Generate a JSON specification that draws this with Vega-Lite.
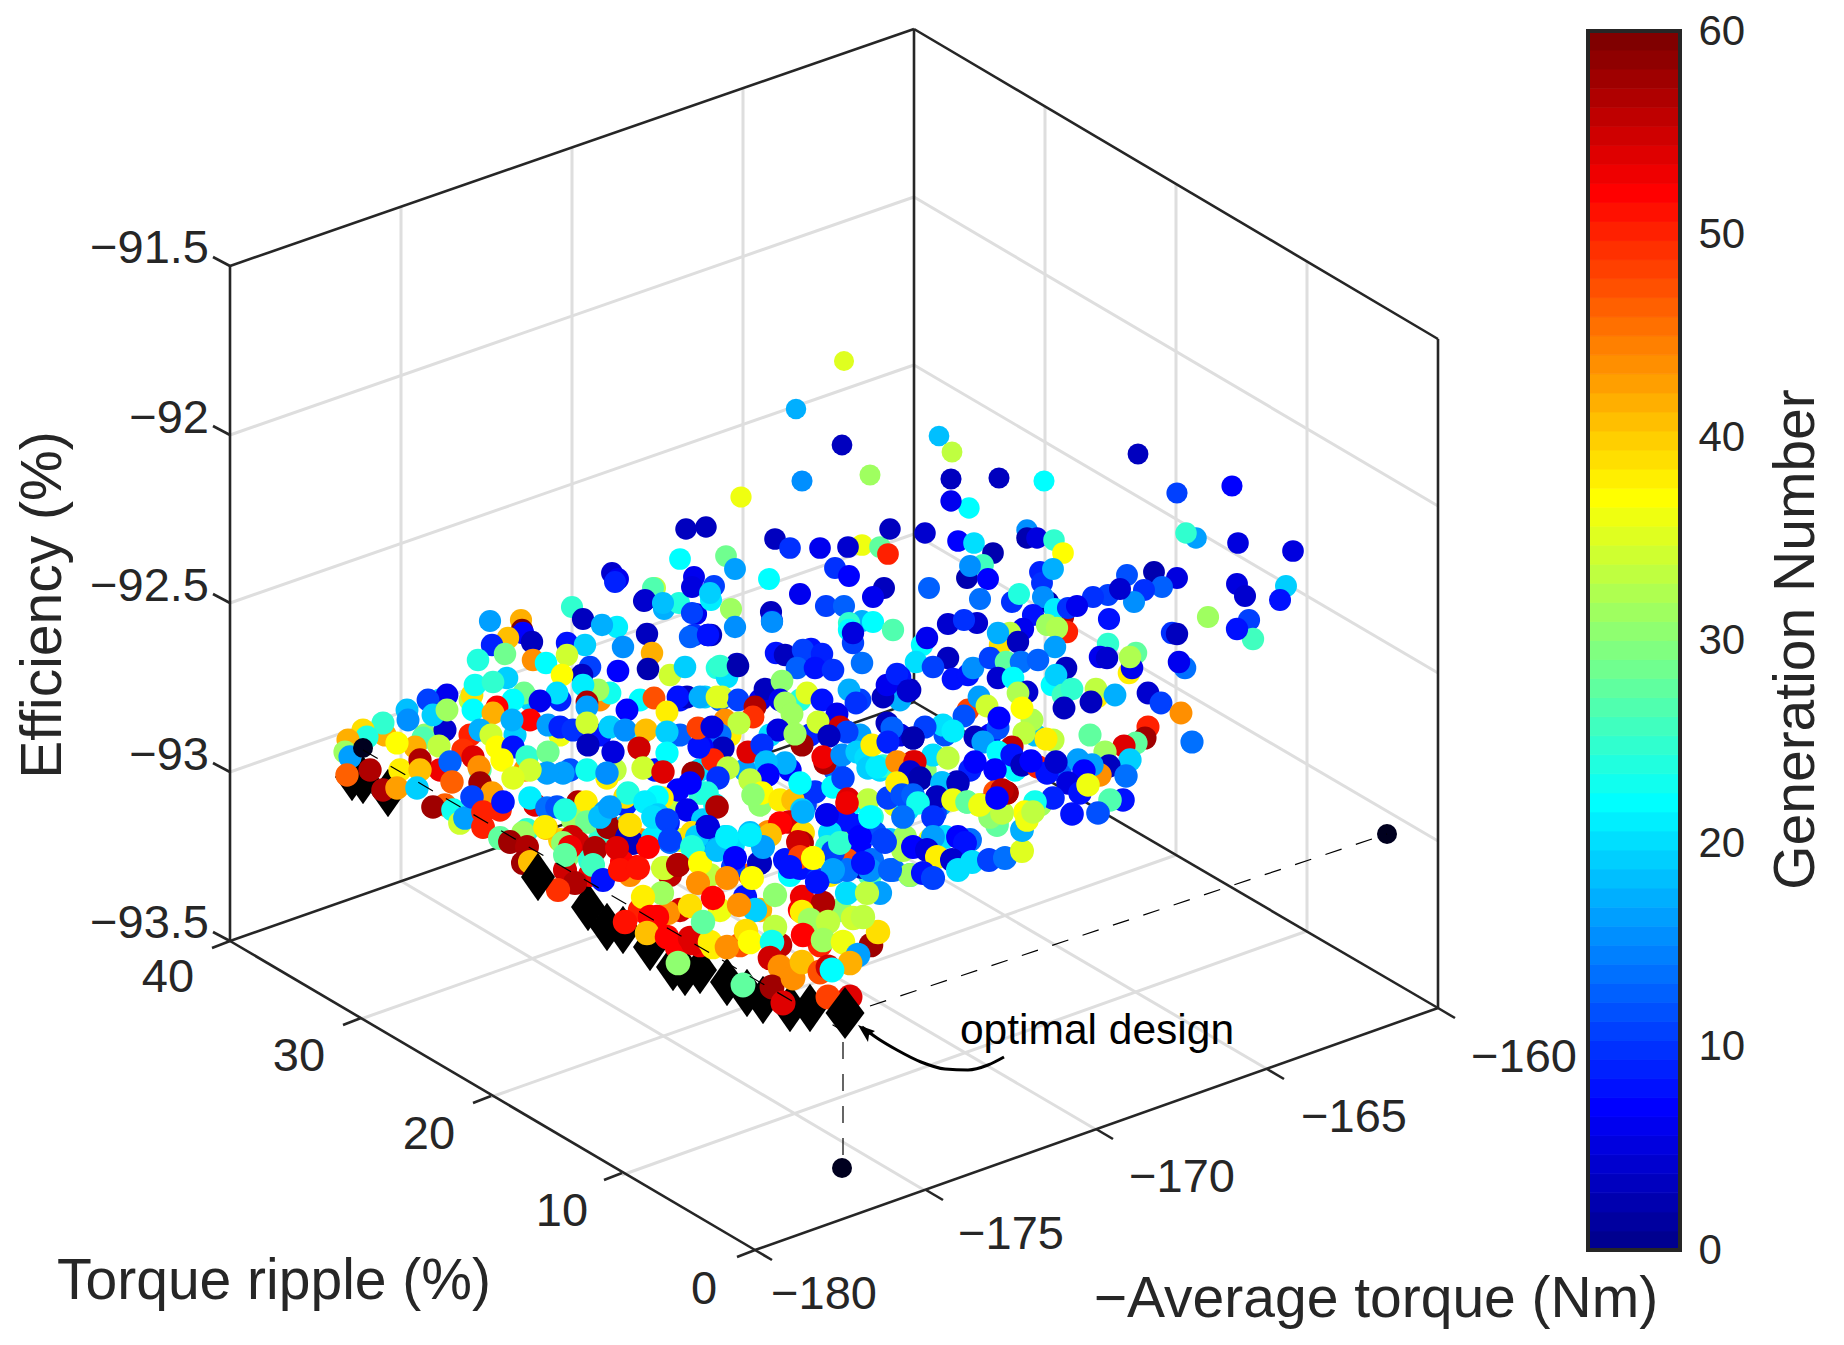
{"$schema":"https://vega.github.io/schema/vega-lite/v6.json","width":1844,"height":1345,"padding":0,"autosize":"none","background":"white","view":{"stroke":null},
"datasets":{
"grid":[{"u":622,"v":1175,"u2":1307,"v2":931},{"u":491,"v":1097,"u2":1176,"v2":855},{"u":361,"v":1019,"u2":1045,"v2":778},{"u":924,"v":1190,"u2":401,"v2":881},{"u":1095,"v":1129,"u2":572,"v2":822},{"u":1267,"v":1069,"u2":743,"v2":762},{"u":401,"v":881,"u2":401,"v2":207},{"u":572,"v":822,"u2":572,"v2":147},{"u":743,"v":762,"u2":743,"v2":88},{"u":1045,"v":778,"u2":1045,"v2":107},{"u":1176,"v":855,"u2":1176,"v2":184},{"u":1307,"v":931,"u2":1307,"v2":262},{"u":230,"v":772,"u2":914,"v2":534},{"u":230,"v":603,"u2":914,"v2":365},{"u":230,"v":435,"u2":914,"v2":197},{"u":914,"v":534,"u2":1438,"v2":841},{"u":914,"v":365,"u2":1438,"v2":673},{"u":914,"v":197,"u2":1438,"v2":506}],
"box":[{"u":230,"v":266,"u2":914,"v2":29},{"u":914,"v":29,"u2":1438,"v2":339},{"u":230,"v":266,"u2":230,"v2":941},{"u":914,"v":29,"u2":914,"v2":702},{"u":1438,"v":339,"u2":1438,"v2":1008},{"u":230,"v":941,"u2":755,"v2":1250},{"u":755,"v":1250,"u2":1438,"v2":1008},{"u":230,"v":941,"u2":914,"v2":702},{"u":914,"v":702,"u2":1438,"v2":1008},
{"u":755,"v":1250,"u2":737,"v2":1257},{"u":622,"v":1173,"u2":604,"v2":1180},{"u":491,"v":1096,"u2":473,"v2":1103},{"u":361,"v":1018,"u2":343,"v2":1025},{"u":230,"v":941,"u2":212,"v2":948},
{"u":755,"v":1250,"u2":772,"v2":1260},{"u":926,"v":1190,"u2":943,"v2":1200},{"u":1096,"v":1129,"u2":1113,"v2":1139},{"u":1267,"v":1069,"u2":1284,"v2":1079},{"u":1438,"v":1008,"u2":1455,"v2":1018},
{"u":230,"v":266,"u2":213,"v2":257},{"u":230,"v":435,"u2":213,"v2":426},{"u":230,"v":603,"u2":213,"v2":594},{"u":230,"v":772,"u2":213,"v2":763},{"u":230,"v":941,"u2":213,"v2":932}],
"leaders":[{"u":843,"v":1010,"u2":843,"v2":1168},{"u":870,"v":1006,"u2":1387,"v2":834},{"u":363,"v":750,"u2":845,"v2":1032}],
"projections":[{"u":842,"v":1168},{"u":1387,"v":834},{"u":363,"v":748}],
"front":[{"u":352,"v":777},{"u":363,"v":780},{"u":388,"v":793},{"u":588,"v":907},{"u":607,"v":927},{"u":623,"v":930},{"u":650,"v":947},{"u":673,"v":967},{"u":685,"v":972},{"u":700,"v":970},{"u":727,"v":982},{"u":747,"v":993},{"u":763,"v":1000},{"u":790,"v":1008},{"u":810,"v":1008}],
"frontTop":[{"u":538,"v":877}],
"optimal":[{"u":845,"v":1013}],
"arrow":[{"u":1004,"v":1057,"o":1},{"u":988,"v":1065,"o":2},{"u":968,"v":1070,"o":3},{"u":945,"v":1069,"o":4},{"u":921,"v":1062,"o":5},{"u":897,"v":1050,"o":6},{"u":877,"v":1038,"o":7},{"u":862,"v":1027,"o":8}],
"arrowTip":[{"u":858,"v":1025}],
"labelsRight":[{"u":209,"v":249,"t":"−91.5"},{"u":209,"v":419,"t":"−92"},{"u":209,"v":587,"t":"−92.5"},{"u":209,"v":756,"t":"−93"},{"u":209,"v":924,"t":"−93.5"}],
"labelsCenter":[{"u":168,"v":978,"t":"40"},{"u":299,"v":1057,"t":"30"},{"u":429,"v":1135,"t":"20"},{"u":562,"v":1212,"t":"10"},{"u":704,"v":1290,"t":"0"},{"u":824,"v":1295,"t":"−180"},{"u":1011,"v":1235,"t":"−175"},{"u":1182,"v":1178,"t":"−170"},{"u":1354,"v":1118,"t":"−165"},{"u":1524,"v":1058,"t":"−160"}],
"titles":[{"u":274,"v":1282,"t":"Torque ripple (%)"},{"u":1376,"v":1300,"t":"−Average torque (Nm)"}],
"titleZ":[{"u":44,"v":605,"t":"Efficiency (%)"}],
"note":[{"u":1097,"v":1031,"t":"optimal design"}],
"barFrame":[{"lo":0,"hi":60}],
"bar":[{"lo":0,"hi":0.9375,"gen":0.47},{"lo":0.9375,"hi":1.875,"gen":1.41},{"lo":1.875,"hi":2.8125,"gen":2.34},{"lo":2.8125,"hi":3.75,"gen":3.28},{"lo":3.75,"hi":4.6875,"gen":4.22},{"lo":4.6875,"hi":5.625,"gen":5.16},{"lo":5.625,"hi":6.5625,"gen":6.09},{"lo":6.5625,"hi":7.5,"gen":7.03},{"lo":7.5,"hi":8.4375,"gen":7.97},{"lo":8.4375,"hi":9.375,"gen":8.91},{"lo":9.375,"hi":10.3125,"gen":9.84},{"lo":10.3125,"hi":11.25,"gen":10.78},{"lo":11.25,"hi":12.1875,"gen":11.72},{"lo":12.1875,"hi":13.125,"gen":12.66},{"lo":13.125,"hi":14.0625,"gen":13.59},{"lo":14.0625,"hi":15,"gen":14.53},{"lo":15,"hi":15.9375,"gen":15.47},{"lo":15.9375,"hi":16.875,"gen":16.41},{"lo":16.875,"hi":17.8125,"gen":17.34},{"lo":17.8125,"hi":18.75,"gen":18.28},{"lo":18.75,"hi":19.6875,"gen":19.22},{"lo":19.6875,"hi":20.625,"gen":20.16},{"lo":20.625,"hi":21.5625,"gen":21.09},{"lo":21.5625,"hi":22.5,"gen":22.03},{"lo":22.5,"hi":23.4375,"gen":22.97},{"lo":23.4375,"hi":24.375,"gen":23.91},{"lo":24.375,"hi":25.3125,"gen":24.84},{"lo":25.3125,"hi":26.25,"gen":25.78},{"lo":26.25,"hi":27.1875,"gen":26.72},{"lo":27.1875,"hi":28.125,"gen":27.66},{"lo":28.125,"hi":29.0625,"gen":28.59},{"lo":29.0625,"hi":30,"gen":29.53},{"lo":30,"hi":30.9375,"gen":30.47},{"lo":30.9375,"hi":31.875,"gen":31.41},{"lo":31.875,"hi":32.8125,"gen":32.34},{"lo":32.8125,"hi":33.75,"gen":33.28},{"lo":33.75,"hi":34.6875,"gen":34.22},{"lo":34.6875,"hi":35.625,"gen":35.16},{"lo":35.625,"hi":36.5625,"gen":36.09},{"lo":36.5625,"hi":37.5,"gen":37.03},{"lo":37.5,"hi":38.4375,"gen":37.97},{"lo":38.4375,"hi":39.375,"gen":38.91},{"lo":39.375,"hi":40.3125,"gen":39.84},{"lo":40.3125,"hi":41.25,"gen":40.78},{"lo":41.25,"hi":42.1875,"gen":41.72},{"lo":42.1875,"hi":43.125,"gen":42.66},{"lo":43.125,"hi":44.0625,"gen":43.59},{"lo":44.0625,"hi":45,"gen":44.53},{"lo":45,"hi":45.9375,"gen":45.47},{"lo":45.9375,"hi":46.875,"gen":46.41},{"lo":46.875,"hi":47.8125,"gen":47.34},{"lo":47.8125,"hi":48.75,"gen":48.28},{"lo":48.75,"hi":49.6875,"gen":49.22},{"lo":49.6875,"hi":50.625,"gen":50.16},{"lo":50.625,"hi":51.5625,"gen":51.09},{"lo":51.5625,"hi":52.5,"gen":52.03},{"lo":52.5,"hi":53.4375,"gen":52.97},{"lo":53.4375,"hi":54.375,"gen":53.91},{"lo":54.375,"hi":55.3125,"gen":54.84},{"lo":55.3125,"hi":56.25,"gen":55.78},{"lo":56.25,"hi":57.1875,"gen":56.72},{"lo":57.1875,"hi":58.125,"gen":57.66},{"lo":58.125,"hi":59.0625,"gen":58.59},{"lo":59.0625,"hi":60,"gen":59.53}],
"dots":[
{"u":440,"v":700,"gen":20},{"u":470,"v":700,"gen":33},{"u":530,"v":700,"gen":19},{"u":560,"v":700,"gen":9},{"u":600,"v":700,"gen":44},{"u":640,"v":700,"gen":22},{"u":680,"v":700,"gen":8},{"u":720,"v":700,"gen":13},{"u":760,"v":700,"gen":6},{"u":800,"v":700,"gen":24},{"u":860,"v":700,"gen":11},{"u":900,"v":700,"gen":17},{"u":385,"v":735,"gen":42},{"u":425,"v":735,"gen":30},{"u":470,"v":735,"gen":50},{"u":515,"v":735,"gen":19},{"u":560,"v":735,"gen":36},{"u":600,"v":735,"gen":8},{"u":640,"v":735,"gen":24},{"u":680,"v":735,"gen":13},{"u":730,"v":735,"gen":38},{"u":770,"v":735,"gen":20},{"u":810,"v":735,"gen":9},{"u":860,"v":735,"gen":16},{"u":900,"v":735,"gen":5},{"u":945,"v":735,"gen":12},{"u":990,"v":735,"gen":7},{"u":1035,"v":735,"gen":18},{"u":400,"v":770,"gen":38},{"u":440,"v":770,"gen":53},{"u":480,"v":770,"gen":28},{"u":525,"v":770,"gen":44},{"u":570,"v":770,"gen":12},{"u":615,"v":770,"gen":33},{"u":655,"v":770,"gen":8},{"u":700,"v":770,"gen":20},{"u":745,"v":770,"gen":16},{"u":790,"v":770,"gen":7},{"u":835,"v":770,"gen":13},{"u":880,"v":770,"gen":20},{"u":925,"v":770,"gen":30},{"u":970,"v":770,"gen":9},{"u":1015,"v":770,"gen":22},{"u":1060,"v":770,"gen":13},{"u":445,"v":805,"gen":46},{"u":490,"v":805,"gen":37},{"u":535,"v":805,"gen":54},{"u":580,"v":805,"gen":20},{"u":625,"v":805,"gen":9},{"u":670,"v":805,"gen":33},{"u":715,"v":805,"gen":22},{"u":760,"v":805,"gen":30},{"u":805,"v":805,"gen":11},{"u":850,"v":805,"gen":22},{"u":895,"v":805,"gen":36},{"u":940,"v":805,"gen":16},{"u":985,"v":805,"gen":8},{"u":1040,"v":805,"gen":31},{"u":520,"v":840,"gen":50},{"u":560,"v":840,"gen":40},{"u":600,"v":840,"gen":25},{"u":640,"v":840,"gen":44},{"u":680,"v":840,"gen":34},{"u":720,"v":840,"gen":17},{"u":760,"v":840,"gen":38},{"u":800,"v":840,"gen":16},{"u":845,"v":840,"gen":30},{"u":890,"v":840,"gen":19},{"u":930,"v":840,"gen":36},{"u":970,"v":840,"gen":14},{"u":590,"v":875,"gen":53},{"u":630,"v":875,"gen":44},{"u":670,"v":875,"gen":56},{"u":710,"v":875,"gen":33},{"u":750,"v":875,"gen":46},{"u":790,"v":875,"gen":22},{"u":830,"v":875,"gen":38},{"u":870,"v":875,"gen":27},{"u":910,"v":875,"gen":20},{"u":640,"v":910,"gen":50},{"u":680,"v":910,"gen":55},{"u":720,"v":910,"gen":36},{"u":760,"v":910,"gen":42},{"u":800,"v":910,"gen":52},{"u":840,"v":910,"gen":30},{"u":700,"v":945,"gen":53},{"u":740,"v":945,"gen":47},{"u":780,"v":945,"gen":56},{"u":820,"v":945,"gen":50},
{"u":844,"v":361,"gen":35},{"u":796,"v":409,"gen":17},{"u":842,"v":445,"gen":3},{"u":802,"v":481,"gen":15},{"u":870,"v":475,"gen":31},{"u":741,"v":497,"gen":36},{"u":686,"v":529,"gen":3},{"u":706,"v":527,"gen":3},{"u":775,"v":539,"gen":3},{"u":790,"v":548,"gen":10},{"u":820,"v":548,"gen":6},{"u":862,"v":545,"gen":36},{"u":848,"v":547,"gen":4},{"u":880,"v":547,"gen":28},{"u":888,"v":554,"gen":50},{"u":890,"v":529,"gen":3},{"u":680,"v":559,"gen":22},{"u":726,"v":556,"gen":29},{"u":694,"v":577,"gen":6},{"u":714,"v":586,"gen":11},{"u":735,"v":569,"gen":16},{"u":769,"v":579,"gen":22},{"u":800,"v":594,"gen":6},{"u":835,"v":568,"gen":10},{"u":849,"v":576,"gen":7},{"u":884,"v":588,"gen":3},{"u":873,"v":597,"gen":6},{"u":826,"v":606,"gen":11},{"u":844,"v":606,"gen":13},{"u":862,"v":621,"gen":17},{"u":612,"v":573,"gen":4},{"u":618,"v":579,"gen":6},{"u":655,"v":588,"gen":33},{"u":644,"v":601,"gen":3},{"u":664,"v":609,"gen":17},{"u":679,"v":603,"gen":24},{"u":696,"v":614,"gen":6},{"u":711,"v":600,"gen":21},{"u":731,"v":609,"gen":31},{"u":771,"v":612,"gen":3},{"u":772,"v":621,"gen":6},{"u":849,"v":623,"gen":25},{"u":737,"v":664,"gen":3},{"u":694,"v":635,"gen":10},{"u":711,"v":635,"gen":3},{"u":717,"v":668,"gen":24},{"u":776,"v":653,"gen":8},{"u":800,"v":659,"gen":7},{"u":811,"v":649,"gen":8},
{"u":939,"v":436,"gen":18},{"u":952,"v":452,"gen":33},{"u":951,"v":479,"gen":3},{"u":999,"v":478,"gen":3},{"u":1044,"v":481,"gen":22},{"u":1138,"v":454,"gen":3},{"u":1177,"v":493,"gen":11},{"u":1232,"v":486,"gen":7},{"u":969,"v":508,"gen":22},{"u":951,"v":501,"gen":6},{"u":925,"v":533,"gen":4},{"u":958,"v":541,"gen":7},{"u":974,"v":543,"gen":20},{"u":993,"v":553,"gen":2},{"u":1027,"v":530,"gen":15},{"u":1027,"v":538,"gen":2},{"u":1037,"v":538,"gen":5},{"u":1054,"v":540,"gen":25},{"u":1063,"v":553,"gen":37},{"u":1196,"v":538,"gen":16},{"u":1186,"v":533,"gen":25},{"u":1238,"v":543,"gen":5},{"u":1293,"v":551,"gen":5},{"u":983,"v":565,"gen":26},{"u":967,"v":578,"gen":2},{"u":970,"v":566,"gen":15},{"u":988,"v":579,"gen":7},{"u":929,"v":588,"gen":13},{"u":1040,"v":572,"gen":9},{"u":1042,"v":583,"gen":10},{"u":1053,"v":569,"gen":17},{"u":1127,"v":575,"gen":12},{"u":1154,"v":572,"gen":2},{"u":1177,"v":578,"gen":5},{"u":1162,"v":587,"gen":13},{"u":1144,"v":590,"gen":10},{"u":1134,"v":602,"gen":15},{"u":1108,"v":595,"gen":11},{"u":1093,"v":597,"gen":10},{"u":1120,"v":589,"gen":4},{"u":1237,"v":584,"gen":5},{"u":1245,"v":596,"gen":4},{"u":1286,"v":586,"gen":19},{"u":1280,"v":600,"gen":8},{"u":980,"v":599,"gen":14},{"u":1012,"v":602,"gen":10},{"u":1019,"v":594,"gen":24},{"u":1048,"v":602,"gen":2},{"u":1043,"v":597,"gen":15},{"u":1033,"v":615,"gen":8},{"u":1063,"v":617,"gen":57},{"u":1067,"v":632,"gen":50},{"u":1055,"v":609,"gen":21},{"u":1068,"v":608,"gen":10},{"u":1077,"v":606,"gen":6},{"u":1109,"v":619,"gen":8},{"u":1208,"v":617,"gen":31},{"u":1249,"v":620,"gen":11},{"u":1253,"v":639,"gen":26},{"u":1237,"v":629,"gen":8},{"u":948,"v":624,"gen":4},{"u":977,"v":623,"gen":4},{"u":964,"v":620,"gen":10},{"u":1023,"v":629,"gen":6},{"u":1010,"v":633,"gen":33},{"u":1000,"v":645,"gen":39},{"u":998,"v":633,"gen":17},{"u":1018,"v":642,"gen":3},{"u":1047,"v":625,"gen":31},{"u":1057,"v":628,"gen":32},{"u":1055,"v":647,"gen":16},{"u":1108,"v":644,"gen":25},{"u":1172,"v":633,"gen":10},{"u":1177,"v":634,"gen":3},{"u":1100,"v":657,"gen":6},{"u":1107,"v":658,"gen":4},{"u":1136,"v":653,"gen":28},{"u":1129,"v":673,"gen":38},{"u":1132,"v":668,"gen":6},{"u":1130,"v":657,"gen":32},{"u":1185,"v":668,"gen":14},{"u":1179,"v":662,"gen":6},{"u":922,"v":645,"gen":22},{"u":927,"v":638,"gen":6},{"u":916,"v":662,"gen":20},{"u":948,"v":658,"gen":3},{"u":933,"v":667,"gen":11},{"u":953,"v":679,"gen":8},{"u":968,"v":675,"gen":8},{"u":973,"v":668,"gen":15},{"u":990,"v":658,"gen":11},{"u":1006,"v":662,"gen":28},{"u":1021,"v":662,"gen":14},{"u":1038,"v":660,"gen":13},{"u":998,"v":678,"gen":4},{"u":1013,"v":678,"gen":22},{"u":1066,"v":668,"gen":3},{"u":1052,"v":685,"gen":22},{"u":1056,"v":675,"gen":19},{"u":1063,"v":695,"gen":26},{"u":1072,"v":689,"gen":25},{"u":1097,"v":697,"gen":38},{"u":1096,"v":689,"gen":33},{"u":1064,"v":708,"gen":3},{"u":1091,"v":702,"gen":3},{"u":1115,"v":695,"gen":17},{"u":1148,"v":693,"gen":4},{"u":1161,"v":703,"gen":11},{"u":1181,"v":713,"gen":44},{"u":1148,"v":727,"gen":50},{"u":1145,"v":738,"gen":58},{"u":1136,"v":743,"gen":28},{"u":1124,"v":746,"gen":54},{"u":1090,"v":735,"gen":28},{"u":1192,"v":742,"gen":14},{"u":1130,"v":760,"gen":19},{"u":1105,"v":752,"gen":31},{"u":1109,"v":766,"gen":3},{"u":1078,"v":760,"gen":16},{"u":1100,"v":775,"gen":44},{"u":1092,"v":765,"gen":16},{"u":1126,"v":776,"gen":14},{"u":1084,"v":771,"gen":7},{"u":1068,"v":783,"gen":5},{"u":1080,"v":793,"gen":8},{"u":1088,"v":785,"gen":36},{"u":1123,"v":800,"gen":8},{"u":1110,"v":800,"gen":27},{"u":1053,"v":798,"gen":9},{"u":1072,"v":814,"gen":8},{"u":1098,"v":813,"gen":12},
{"u":910,"v":690,"gen":3},{"u":900,"v":677,"gen":8},{"u":968,"v":710,"gen":48},{"u":979,"v":697,"gen":16},{"u":987,"v":706,"gen":34},{"u":964,"v":716,"gen":12},{"u":1027,"v":692,"gen":4},{"u":1018,"v":693,"gen":32},{"u":1032,"v":720,"gen":32},{"u":1022,"v":708,"gen":37},{"u":998,"v":728,"gen":12},{"u":999,"v":718,"gen":7},{"u":1024,"v":733,"gen":33},{"u":1053,"v":740,"gen":33},{"u":1046,"v":739,"gen":38},{"u":975,"v":737,"gen":3},{"u":983,"v":742,"gen":16},{"u":943,"v":725,"gen":20},{"u":925,"v":727,"gen":11},{"u":953,"v":731,"gen":21},{"u":913,"v":738,"gen":2},{"u":1012,"v":747,"gen":56},{"u":998,"v":752,"gen":22},{"u":1012,"v":755,"gen":8},{"u":1022,"v":765,"gen":3},{"u":1038,"v":767,"gen":50},{"u":1047,"v":773,"gen":8},{"u":1031,"v":761,"gen":7},{"u":1056,"v":762,"gen":4},{"u":933,"v":755,"gen":20},{"u":948,"v":758,"gen":33},{"u":975,"v":762,"gen":7},{"u":995,"v":770,"gen":7},{"u":913,"v":762,"gen":55},{"u":908,"v":772,"gen":6},{"u":920,"v":779,"gen":2},{"u":957,"v":782,"gen":3},{"u":942,"v":783,"gen":18},{"u":995,"v":792,"gen":47},{"u":1007,"v":793,"gen":54},{"u":997,"v":800,"gen":6},{"u":967,"v":802,"gen":28},{"u":979,"v":805,"gen":36},{"u":1035,"v":802,"gen":23},{"u":1002,"v":813,"gen":33},{"u":1025,"v":812,"gen":37},{"u":912,"v":795,"gen":13},{"u":937,"v":797,"gen":4},{"u":935,"v":813,"gen":11},{"u":907,"v":810,"gen":20},
{"u":708,"v":635,"gen":4},{"u":735,"v":627,"gen":15},{"u":772,"v":622,"gen":15},{"u":727,"v":677,"gen":20},{"u":720,"v":666,"gen":25},{"u":738,"v":666,"gen":2},{"u":785,"v":655,"gen":3},{"u":803,"v":650,"gen":11},{"u":822,"v":654,"gen":9},{"u":797,"v":668,"gen":13},{"u":815,"v":668,"gen":8},{"u":833,"v":670,"gen":10},{"u":862,"v":663,"gen":14},{"u":849,"v":630,"gen":22},{"u":853,"v":643,"gen":11},{"u":853,"v":633,"gen":5},{"u":873,"v":622,"gen":22},{"u":893,"v":630,"gen":27},{"u":883,"v":697,"gen":3},{"u":887,"v":685,"gen":6},{"u":897,"v":674,"gen":9},{"u":908,"v":691,"gen":4},{"u":765,"v":689,"gen":3},{"u":782,"v":681,"gen":30},{"u":807,"v":693,"gen":35},{"u":780,"v":700,"gen":6},{"u":822,"v":700,"gen":8},{"u":849,"v":690,"gen":17},{"u":856,"v":703,"gen":10},{"u":705,"v":697,"gen":19},{"u":722,"v":697,"gen":34},{"u":738,"v":700,"gen":11},{"u":755,"v":707,"gen":57},{"u":753,"v":717,"gen":49},{"u":725,"v":720,"gen":44},{"u":739,"v":723,"gen":33},{"u":785,"v":703,"gen":31},{"u":792,"v":714,"gen":31},{"u":837,"v":714,"gen":6},{"u":818,"v":722,"gen":34},{"u":802,"v":745,"gen":58},{"u":778,"v":730,"gen":5},{"u":795,"v":734,"gen":31},{"u":840,"v":727,"gen":55},{"u":847,"v":732,"gen":11},{"u":829,"v":736,"gen":3},{"u":713,"v":728,"gen":6},{"u":720,"v":735,"gen":14},{"u":723,"v":748,"gen":3},{"u":702,"v":747,"gen":7},{"u":748,"v":752,"gen":54},{"u":762,"v":745,"gen":10},{"u":825,"v":763,"gen":57},{"u":823,"v":757,"gen":53},{"u":842,"v":755,"gen":15},{"u":857,"v":752,"gen":19},{"u":866,"v":758,"gen":20},{"u":785,"v":763,"gen":17},{"u":766,"v":762,"gen":18},{"u":768,"v":775,"gen":7},{"u":713,"v":760,"gen":50},{"u":728,"v":768,"gen":33},{"u":718,"v":778,"gen":10},{"u":702,"v":793,"gen":24},{"u":750,"v":780,"gen":33},{"u":762,"v":793,"gen":37},{"u":753,"v":795,"gen":30},{"u":780,"v":800,"gen":38},{"u":793,"v":800,"gen":41},{"u":815,"v":792,"gen":10},{"u":800,"v":783,"gen":22},{"u":833,"v":787,"gen":22},{"u":843,"v":778,"gen":11},{"u":802,"v":810,"gen":19},{"u":789,"v":822,"gen":54},{"u":827,"v":815,"gen":4},{"u":848,"v":799,"gen":54},{"u":845,"v":820,"gen":8},{"u":857,"v":826,"gen":8},{"u":868,"v":800,"gen":33},{"u":872,"v":817,"gen":25},{"u":768,"v":832,"gen":44},{"u":750,"v":833,"gen":18},{"u":725,"v":837,"gen":19},{"u":708,"v":828,"gen":9},{"u":733,"v":845,"gen":20},{"u":710,"v":847,"gen":15},{"u":830,"v":833,"gen":20},{"u":803,"v":833,"gen":39},{"u":802,"v":843,"gen":57},{"u":800,"v":852,"gen":49},{"u":827,"v":847,"gen":25},{"u":813,"v":858,"gen":37},{"u":785,"v":860,"gen":8},{"u":800,"v":868,"gen":8},{"u":759,"v":863,"gen":6},{"u":733,"v":867,"gen":11},{"u":763,"v":845,"gen":17},{"u":860,"v":843,"gen":7},{"u":875,"v":833,"gen":12},{"u":883,"v":840,"gen":11},{"u":905,"v":837,"gen":31},{"u":847,"v":860,"gen":47},{"u":862,"v":867,"gen":3},{"u":872,"v":860,"gen":14},{"u":835,"v":872,"gen":15},{"u":818,"v":880,"gen":11},{"u":893,"v":870,"gen":14},{"u":903,"v":850,"gen":32},{"u":888,"v":798,"gen":11},{"u":868,"v":768,"gen":19},{"u":883,"v":766,"gen":25},{"u":877,"v":767,"gen":21},{"u":887,"v":723,"gen":3},{"u":892,"v":728,"gen":13},{"u":872,"v":745,"gen":38},{"u":888,"v":742,"gen":9},{"u":913,"v":738,"gen":2},{"u":897,"v":762,"gen":44},{"u":915,"v":762,"gen":54},{"u":910,"v":772,"gen":4},{"u":920,"v":778,"gen":2},{"u":897,"v":783,"gen":38},{"u":942,"v":783,"gen":18},{"u":958,"v":783,"gen":3},{"u":902,"v":795,"gen":12},{"u":913,"v":795,"gen":13},{"u":937,"v":797,"gen":3},{"u":918,"v":803,"gen":23},{"u":953,"v":800,"gen":36},{"u":967,"v":802,"gen":28},{"u":903,"v":817,"gen":14},{"u":933,"v":817,"gen":10},{"u":945,"v":837,"gen":20},{"u":933,"v":837,"gen":16},{"u":958,"v":837,"gen":7},{"u":965,"v":843,"gen":8},{"u":913,"v":847,"gen":7},{"u":927,"v":850,"gen":5},{"u":937,"v":857,"gen":38},{"u":952,"v":860,"gen":4},{"u":910,"v":875,"gen":31},{"u":923,"v":873,"gen":8},{"u":933,"v":878,"gen":11},{"u":958,"v":870,"gen":20},{"u":972,"v":862,"gen":20},{"u":989,"v":860,"gen":11},{"u":1005,"v":858,"gen":14},{"u":1022,"v":851,"gen":35},{"u":1022,"v":830,"gen":17},{"u":997,"v":825,"gen":28},{"u":990,"v":817,"gen":30},{"u":1027,"v":820,"gen":36},{"u":1002,"v":813,"gen":33},{"u":1033,"v":812,"gen":33},{"u":980,"v":805,"gen":36},{"u":1007,"v":793,"gen":57},{"u":1002,"v":790,"gen":56},{"u":997,"v":798,"gen":7},
{"u":490,"v":621,"gen":16},{"u":521,"v":620,"gen":42},{"u":522,"v":630,"gen":60},{"u":523,"v":633,"gen":7},{"u":532,"v":642,"gen":3},{"u":508,"v":638,"gen":41},{"u":492,"v":645,"gen":9},{"u":505,"v":654,"gen":29},{"u":478,"v":660,"gen":24},{"u":572,"v":607,"gen":25},{"u":583,"v":619,"gen":3},{"u":617,"v":627,"gen":21},{"u":602,"v":625,"gen":17},{"u":623,"v":647,"gen":15},{"u":647,"v":634,"gen":3},{"u":652,"v":653,"gen":42},{"u":648,"v":669,"gen":2},{"u":618,"v":671,"gen":7},{"u":670,"v":675,"gen":34},{"u":685,"v":667,"gen":19},{"u":692,"v":613,"gen":11},{"u":690,"v":637,"gen":13},{"u":708,"v":635,"gen":8},{"u":653,"v":588,"gen":27},{"u":645,"v":600,"gen":4},{"u":663,"v":603,"gen":18},{"u":615,"v":582,"gen":9},{"u":692,"v":587,"gen":5},{"u":710,"v":593,"gen":19},{"u":654,"v":698,"gen":47},{"u":687,"v":697,"gen":3},{"u":678,"v":697,"gen":8},{"u":700,"v":697,"gen":17},{"u":717,"v":697,"gen":35},{"u":533,"v":660,"gen":44},{"u":567,"v":643,"gen":8},{"u":585,"v":645,"gen":19},{"u":546,"v":663,"gen":22},{"u":567,"v":655,"gen":34},{"u":590,"v":667,"gen":11},{"u":582,"v":675,"gen":3},{"u":562,"v":675,"gen":37},{"u":610,"v":693,"gen":23},{"u":598,"v":690,"gen":31},{"u":583,"v":685,"gen":21},{"u":587,"v":702,"gen":57},{"u":587,"v":707,"gen":16},{"u":557,"v":693,"gen":20},{"u":524,"v":693,"gen":29},{"u":472,"v":695,"gen":39},{"u":475,"v":685,"gen":23},{"u":507,"v":678,"gen":19},{"u":493,"v":682,"gen":25},{"u":513,"v":700,"gen":22},{"u":540,"v":701,"gen":6},{"u":497,"v":707,"gen":52},{"u":473,"v":710,"gen":22},{"u":493,"v":713,"gen":42},{"u":447,"v":695,"gen":6},{"u":428,"v":700,"gen":11},{"u":445,"v":730,"gen":4},{"u":433,"v":715,"gen":19},{"u":447,"v":710,"gen":31},{"u":407,"v":710,"gen":18},{"u":408,"v":720,"gen":15},{"u":383,"v":723,"gen":25},{"u":363,"v":730,"gen":39},{"u":367,"v":737,"gen":24},{"u":348,"v":740,"gen":42},{"u":345,"v":752,"gen":31},{"u":350,"v":757,"gen":16},{"u":423,"v":738,"gen":27},{"u":415,"v":747,"gen":42},{"u":397,"v":743,"gen":37},{"u":439,"v":746,"gen":33},{"u":480,"v":730,"gen":17},{"u":491,"v":735,"gen":34},{"u":530,"v":720,"gen":52},{"u":512,"v":720,"gen":17},{"u":463,"v":750,"gen":49},{"u":473,"v":757,"gen":54},{"u":497,"v":747,"gen":37},{"u":513,"v":747,"gen":8},{"u":527,"v":757,"gen":25},{"u":548,"v":725,"gen":16},{"u":548,"v":752,"gen":29},{"u":560,"v":727,"gen":9},{"u":573,"v":730,"gen":10},{"u":587,"v":723,"gen":34},{"u":610,"v":727,"gen":19},{"u":627,"v":710,"gen":7},{"u":625,"v":730,"gen":15},{"u":667,"v":712,"gen":38},{"u":588,"v":745,"gen":3},{"u":613,"v":752,"gen":5},{"u":646,"v":730,"gen":41},{"u":639,"v":748,"gen":55},{"u":667,"v":732,"gen":19},{"u":667,"v":753,"gen":22},{"u":643,"v":768,"gen":34},{"u":663,"v":772,"gen":54},{"u":693,"v":773,"gen":58},{"u":699,"v":747,"gen":8},{"u":698,"v":728,"gen":48},{"u":712,"v":727,"gen":5},{"u":607,"v":778,"gen":38},{"u":587,"v":770,"gen":23},{"u":607,"v":773,"gen":15},{"u":563,"v":773,"gen":16},{"u":547,"v":773,"gen":16},{"u":625,"v":797,"gen":39},{"u":628,"v":793,"gen":24},{"u":678,"v":790,"gen":7},{"u":700,"v":793,"gen":25},{"u":662,"v":798,"gen":38},{"u":502,"v":760,"gen":37},{"u":479,"v":767,"gen":44},{"u":530,"v":770,"gen":34},{"u":513,"v":778,"gen":35},{"u":480,"v":783,"gen":58},{"u":450,"v":762,"gen":13},{"u":452,"v":782,"gen":46},{"u":492,"v":793,"gen":43},{"u":420,"v":760,"gen":57},{"u":420,"v":770,"gen":41},{"u":383,"v":790,"gen":57},{"u":370,"v":770,"gen":57},{"u":397,"v":788,"gen":43},{"u":417,"v":788,"gen":19},{"u":347,"v":775,"gen":46},{"u":433,"v":807,"gen":58},{"u":453,"v":810,"gen":23},{"u":460,"v":823,"gen":34},{"u":465,"v":818,"gen":16},{"u":472,"v":797,"gen":11},{"u":483,"v":827,"gen":50},{"u":483,"v":812,"gen":50},{"u":500,"v":810,"gen":50},{"u":503,"v":802,"gen":8},{"u":530,"v":798,"gen":21},{"u":547,"v":808,"gen":14},{"u":578,"v":802,"gen":57},{"u":557,"v":807,"gen":12},{"u":586,"v":802,"gen":38},{"u":573,"v":820,"gen":31},{"u":587,"v":822,"gen":29},{"u":546,"v":828,"gen":41},{"u":527,"v":830,"gen":25},{"u":610,"v":827,"gen":58},{"u":605,"v":812,"gen":16},{"u":625,"v":827,"gen":18},{"u":629,"v":825,"gen":41},{"u":657,"v":797,"gen":22},{"u":645,"v":802,"gen":21},{"u":658,"v":815,"gen":19},{"u":668,"v":823,"gen":9},{"u":687,"v":810,"gen":6},{"u":707,"v":793,"gen":24},{"u":690,"v":783,"gen":7},{"u":703,"v":820,"gen":19},{"u":692,"v":833,"gen":39},{"u":707,"v":827,"gen":3},{"u":717,"v":807,"gen":57},{"u":633,"v":843,"gen":3},{"u":653,"v":838,"gen":21},{"u":670,"v":842,"gen":14},{"u":693,"v":848,"gen":24},{"u":697,"v":837,"gen":19},{"u":572,"v":837,"gen":55},{"u":578,"v":843,"gen":55},{"u":595,"v":848,"gen":57},{"u":563,"v":843,"gen":30},{"u":500,"v":838,"gen":28},{"u":523,"v":833,"gen":31},{"u":510,"v":842,"gen":58},{"u":527,"v":847,"gen":57},{"u":567,"v":857,"gen":30},{"u":565,"v":870,"gen":55},{"u":590,"v":860,"gen":25},{"u":622,"v":862,"gen":52},{"u":637,"v":867,"gen":52},{"u":663,"v":868,"gen":34},{"u":678,"v":865,"gen":58},{"u":700,"v":863,"gen":36},{"u":648,"v":847,"gen":52},{"u":527,"v":860,"gen":57},{"u":523,"v":863,"gen":58},
{"u":545,"v":827,"gen":38},{"u":530,"v":862,"gen":41},{"u":570,"v":847,"gen":53},{"u":565,"v":855,"gen":28},{"u":575,"v":883,"gen":57},{"u":558,"v":890,"gen":49},{"u":595,"v":850,"gen":57},{"u":608,"v":827,"gen":58},{"u":627,"v":837,"gen":3},{"u":630,"v":825,"gen":39},{"u":617,"v":848,"gen":54},{"u":593,"v":865,"gen":26},{"u":603,"v":880,"gen":8},{"u":620,"v":870,"gen":51},{"u":638,"v":868,"gen":51},{"u":565,"v":810,"gen":24},{"u":600,"v":817,"gen":18},{"u":610,"v":807,"gen":16},{"u":653,"v":817,"gen":20},{"u":667,"v":820,"gen":11},{"u":670,"v":840,"gen":11},{"u":692,"v":847,"gen":24},{"u":665,"v":868,"gen":34},{"u":678,"v":865,"gen":57},{"u":700,"v":863,"gen":37},{"u":717,"v":850,"gen":18},{"u":708,"v":827,"gen":5},{"u":727,"v":837,"gen":21},{"u":735,"v":858,"gen":7},{"u":760,"v":863,"gen":3},{"u":745,"v":897,"gen":8},{"u":698,"v":883,"gen":44},{"u":727,"v":878,"gen":44},{"u":752,"v":878,"gen":37},{"u":755,"v":910,"gen":19},{"u":713,"v":898,"gen":52},{"u":739,"v":905,"gen":44},{"u":668,"v":913,"gen":44},{"u":662,"v":893,"gen":31},{"u":643,"v":897,"gen":38},{"u":690,"v":906,"gen":39},{"u":650,"v":917,"gen":52},{"u":625,"v":922,"gen":51},{"u":657,"v":917,"gen":52},{"u":647,"v":933,"gen":41},{"u":667,"v":937,"gen":52},{"u":677,"v":947,"gen":52},{"u":678,"v":963,"gen":30},{"u":690,"v":938,"gen":54},{"u":693,"v":943,"gen":54},{"u":710,"v":942,"gen":38},{"u":703,"v":922,"gen":28},{"u":713,"v":947,"gen":38},{"u":727,"v":947,"gen":44},{"u":746,"v":931,"gen":39},{"u":775,"v":895,"gen":30},{"u":775,"v":927,"gen":33},{"u":802,"v":897,"gen":53},{"u":823,"v":903,"gen":57},{"u":802,"v":912,"gen":38},{"u":810,"v":920,"gen":31},{"u":803,"v":935,"gen":52},{"u":750,"v":942,"gen":37},{"u":772,"v":942,"gen":23},{"u":770,"v":958,"gen":55},{"u":828,"v":922,"gen":33},{"u":853,"v":918,"gen":34},{"u":823,"v":940,"gen":31},{"u":843,"v":942,"gen":36},{"u":871,"v":945,"gen":58},{"u":878,"v":932,"gen":39},{"u":858,"v":955,"gen":16},{"u":850,"v":963,"gen":42},{"u":780,"v":967,"gen":44},{"u":743,"v":985,"gen":28},{"u":772,"v":987,"gen":58},{"u":783,"v":1003,"gen":54},{"u":793,"v":978,"gen":44},{"u":802,"v":962,"gen":41},{"u":820,"v":972,"gen":47},{"u":828,"v":967,"gen":55},{"u":850,"v":997,"gen":54},{"u":828,"v":997,"gen":48},{"u":832,"v":970,"gen":22},
{"u":847,"v":893,"gen":20},{"u":880,"v":893,"gen":16},{"u":867,"v":893,"gen":33},{"u":863,"v":917,"gen":33},{"u":847,"v":870,"gen":14},{"u":870,"v":870,"gen":15},{"u":890,"v":870,"gen":13},{"u":863,"v":863,"gen":8},{"u":833,"v":852,"gen":11},{"u":833,"v":870,"gen":16},{"u":817,"v":882,"gen":8},{"u":798,"v":842,"gen":55},{"u":800,"v":857,"gen":48},{"u":813,"v":858,"gen":37},{"u":790,"v":867,"gen":8},{"u":780,"v":823,"gen":52},{"u":803,"v":812,"gen":17},{"u":827,"v":815,"gen":6},{"u":847,"v":803,"gen":53},{"u":770,"v":835,"gen":41},{"u":763,"v":847,"gen":16},{"u":750,"v":835,"gen":21},{"u":840,"v":843,"gen":25},{"u":860,"v":837,"gen":7},{"u":885,"v":842,"gen":11},{"u":870,"v":817,"gen":22}
]},
"encoding":{"x":{"field":"u","type":"quantitative","scale":{"domain":[0,1844],"range":[0,1844]},"axis":null},"y":{"field":"v","type":"quantitative","scale":{"domain":[0,1345],"range":[0,1345]},"axis":null}},
"resolve":{"scale":{"y":"independent"},"axis":{"y":"independent"}},
"layer":[
{"data":{"name":"grid"},"mark":{"type":"rule","color":"#dedede","strokeWidth":3},"encoding":{"x2":{"field":"u2"},"y2":{"field":"v2"}}},
{"data":{"name":"box"},"mark":{"type":"rule","color":"#262626","strokeWidth":2.6},"encoding":{"x2":{"field":"u2"},"y2":{"field":"v2"}}},
{"data":{"name":"front"},"mark":{"type":"point","filled":true,"opacity":1,"color":"black","size":1156,"strokeWidth":0,"shape":"M0,-1.42L1,0L0,1.42L-1,0Z"},"encoding":{}},
{"data":{"name":"dots"},"mark":{"type":"point","filled":true,"opacity":1,"strokeWidth":0,"shape":"circle"},"encoding":{"size":{"field":"v","type":"quantitative","scale":{"domain":[350,1000],"range":[400,625]},"legend":null},"color":{"field":"gen","type":"quantitative","scale":{"type":"quantize","domain":[0,60],"range":["#00008f","#00009f","#0000af","#0000bf","#0000cf","#0000df","#0000ef","#0000ff","#0010ff","#0020ff","#0030ff","#0040ff","#0050ff","#0060ff","#0070ff","#0080ff","#008fff","#009fff","#00afff","#00bfff","#00cfff","#00dfff","#00efff","#00ffff","#10ffef","#20ffdf","#30ffcf","#40ffbf","#50ffaf","#60ff9f","#70ff8f","#80ff80","#8fff70","#9fff60","#afff50","#bfff40","#cfff30","#dfff20","#efff10","#ffff00","#ffef00","#ffdf00","#ffcf00","#ffbf00","#ffaf00","#ff9f00","#ff8f00","#ff8000","#ff7000","#ff6000","#ff5000","#ff4000","#ff3000","#ff2000","#ff1000","#ff0000","#ef0000","#df0000","#cf0000","#bf0000","#af0000","#9f0000","#8f0000","#800000"]},"legend":null}}},
{"data":{"name":"frontTop"},"mark":{"type":"point","filled":true,"opacity":1,"color":"black","size":1156,"strokeWidth":0,"shape":"M0,-1.42L1,0L0,1.42L-1,0Z"},"encoding":{}},
{"data":{"name":"projections"},"mark":{"type":"point","filled":true,"opacity":1,"color":"#00001f","size":400,"strokeWidth":0,"shape":"circle"},"encoding":{}},
{"data":{"name":"leaders"},"mark":{"type":"rule","color":"black","strokeWidth":1.2,"strokeDash":[17,15]},"encoding":{"x2":{"field":"u2"},"y2":{"field":"v2"}}},
{"data":{"name":"optimal"},"mark":{"type":"point","filled":true,"opacity":1,"color":"black","size":1521,"strokeWidth":0,"shape":"M0,-1.33L1,0L0,1.33L-1,0Z"},"encoding":{}},
{"data":{"name":"arrow"},"mark":{"type":"line","color":"black","strokeWidth":3,"interpolate":"monotone"},"encoding":{"order":{"field":"o"}}},
{"data":{"name":"arrowTip"},"mark":{"type":"point","filled":true,"opacity":1,"color":"black","size":4,"strokeWidth":0,"shape":"M0,0L10,17L11,10L17,6Z"},"encoding":{}},
{"data":{"name":"labelsRight"},"mark":{"type":"text","align":"right","baseline":"middle","font":"Liberation Sans","fontSize":47,"color":"#262626"},"encoding":{"text":{"field":"t"}}},
{"data":{"name":"labelsCenter"},"mark":{"type":"text","align":"center","baseline":"middle","font":"Liberation Sans","fontSize":47,"color":"#262626"},"encoding":{"text":{"field":"t"}}},
{"data":{"name":"titles"},"mark":{"type":"text","align":"center","baseline":"middle","font":"Liberation Sans","fontSize":57,"color":"#262626"},"encoding":{"text":{"field":"t"}}},
{"data":{"name":"titleZ"},"mark":{"type":"text","align":"center","baseline":"middle","angle":270,"font":"Liberation Sans","fontSize":57,"color":"#262626"},"encoding":{"text":{"field":"t"}}},
{"data":{"name":"note"},"mark":{"type":"text","align":"center","baseline":"middle","font":"Liberation Sans","fontSize":42.5,"color":"black"},"encoding":{"text":{"field":"t"}}},
{"data":{"name":"bar"},"mark":{"type":"rect","strokeWidth":0.8},"encoding":{"x":{"value":1588},"x2":{"value":1680},"y":{"field":"lo","type":"quantitative","scale":{"domain":[0,60],"range":[1250,31]},"axis":null},"y2":{"field":"hi"},"stroke":{"field":"gen","type":"quantitative","scale":{"type":"quantize","domain":[0,60],"range":["#00008f","#00009f","#0000af","#0000bf","#0000cf","#0000df","#0000ef","#0000ff","#0010ff","#0020ff","#0030ff","#0040ff","#0050ff","#0060ff","#0070ff","#0080ff","#008fff","#009fff","#00afff","#00bfff","#00cfff","#00dfff","#00efff","#00ffff","#10ffef","#20ffdf","#30ffcf","#40ffbf","#50ffaf","#60ff9f","#70ff8f","#80ff80","#8fff70","#9fff60","#afff50","#bfff40","#cfff30","#dfff20","#efff10","#ffff00","#ffef00","#ffdf00","#ffcf00","#ffbf00","#ffaf00","#ff9f00","#ff8f00","#ff8000","#ff7000","#ff6000","#ff5000","#ff4000","#ff3000","#ff2000","#ff1000","#ff0000","#ef0000","#df0000","#cf0000","#bf0000","#af0000","#9f0000","#8f0000","#800000"]},"legend":null},"color":{"field":"gen","type":"quantitative","scale":{"type":"quantize","domain":[0,60],"range":["#00008f","#00009f","#0000af","#0000bf","#0000cf","#0000df","#0000ef","#0000ff","#0010ff","#0020ff","#0030ff","#0040ff","#0050ff","#0060ff","#0070ff","#0080ff","#008fff","#009fff","#00afff","#00bfff","#00cfff","#00dfff","#00efff","#00ffff","#10ffef","#20ffdf","#30ffcf","#40ffbf","#50ffaf","#60ff9f","#70ff8f","#80ff80","#8fff70","#9fff60","#afff50","#bfff40","#cfff30","#dfff20","#efff10","#ffff00","#ffef00","#ffdf00","#ffcf00","#ffbf00","#ffaf00","#ff9f00","#ff8f00","#ff8000","#ff7000","#ff6000","#ff5000","#ff4000","#ff3000","#ff2000","#ff1000","#ff0000","#ef0000","#df0000","#cf0000","#bf0000","#af0000","#9f0000","#8f0000","#800000"]},"legend":null}}},
{"data":{"name":"barFrame"},"mark":{"type":"rect","fill":null,"stroke":"#262626","strokeWidth":4},"encoding":{"x":{"value":1588},"x2":{"value":1680},"y":{"field":"lo","type":"quantitative","title":"Generation Number","scale":{"domain":[0,60],"range":[1250,31]},"axis":{"orient":"right","offset":-164,"values":[0,10,20,30,40,50,60],"domain":false,"grid":false,"tickSize":-13,"tickWidth":3,"tickColor":"#262626","labelPadding":31,"labelFont":"Liberation Sans","labelFontSize":42,"labelColor":"#262626","labelBound":false,"labelFlush":false,"labelOverlap":false,"title":"Generation Number","titleFont":"Liberation Sans","titleFontSize":57,"titleFontWeight":"normal","titleColor":"#262626","titleX":116,"titleY":639,"titleAngle":270,"titleAlign":"center","titleBaseline":"middle"}},"y2":{"field":"hi"}}}
]}
